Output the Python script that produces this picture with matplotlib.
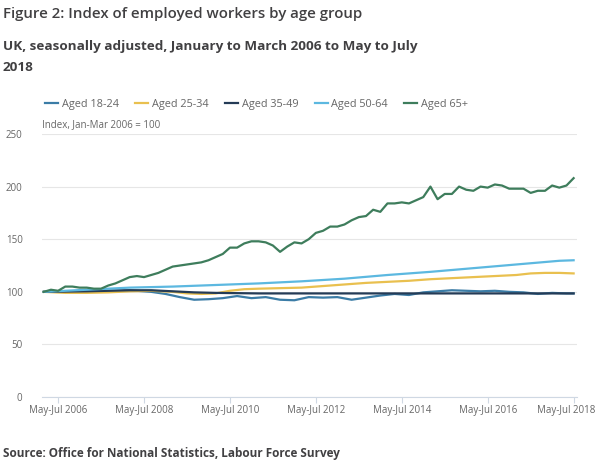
import numpy as np
import matplotlib
matplotlib.use('Agg')
from matplotlib import pyplot as plt
from matplotlib.transforms import ScaledTranslation

plt.rcParams['font.family'] = ['Open Sans', 'DejaVu Sans']

# months since Jan-Mar 2006 (rolling quarters), and index values
m_1824 = [0, 6, 12, 18, 24, 30, 34, 38, 42, 46, 50, 54, 58, 62, 66, 70, 74, 78, 82, 86,
          90, 94, 98, 102, 106, 110, 114, 118, 122, 126, 130, 134, 138, 142, 146, 148]
v_1824 = [100, 100.5, 101, 101, 101.5, 100, 98, 95, 92.5, 93, 94, 96, 94, 95, 92.5, 92, 95, 94.5, 95, 92.5,
          94.5, 96.5, 98, 97, 99.5, 100.5, 101.5, 101, 100.5, 101, 100, 99.5, 98, 99, 98.5, 98.5]

m_2534 = [0, 6, 12, 18, 24, 30, 36, 40, 44, 48, 52, 56, 60, 66, 72, 78, 84, 90, 96, 102,
          108, 114, 120, 126, 132, 136, 140, 144, 148]
v_2534 = [100, 99, 99, 99.5, 100.5, 101, 100, 98.5, 98, 98.5, 101, 102.5, 103, 103.5, 104, 105.5, 107, 108.5, 109.5, 110.5,
          112, 113, 114, 115, 116, 117.5, 118, 118, 117.5]

m_3549 = [0, 12, 24, 30, 36, 42, 48, 60, 72, 84, 96, 108, 120, 132, 148]
v_3549 = [100, 100.5, 101.5, 101.5, 100.5, 99.5, 99, 98.5, 98.5, 98.5, 98.5, 98.5, 98.5, 98.5, 98.5]

m_5064 = [0, 12, 24, 36, 48, 60, 72, 84, 96, 108, 120, 132, 144, 148]
v_5064 = [100, 102, 104, 105, 106.5, 108, 110, 112.5, 116, 119, 122.5, 126, 129.5, 130]

m_65 = list(range(0, 149, 2))
v_65 = [100, 102, 101, 105, 105, 104, 104, 103, 103, 106, 108, 111, 114, 115, 114, 116, 118, 121, 124, 125,
        126, 127, 128, 130, 133, 136, 142, 142, 146, 148, 148, 147, 144, 138, 143, 147, 146, 150, 156, 158,
        162, 162, 164, 168, 171, 172, 178, 176, 184, 184, 185, 184, 187, 190, 200, 188, 193, 193, 200, 197,
        196, 200, 199, 202, 201, 198, 198, 198, 194, 196, 196, 201, 199, 201, 208]

labels = ['Aged 18-24', 'Aged 25-34', 'Aged 35-49', 'Aged 50-64', 'Aged 65+']
colors = ['#3b7ca6', '#e9c04f', '#243b56', '#5cb8e0', '#3e7d5c']
tick_m = [4, 28, 52, 76, 100, 124, 148]
tick_label = ['May-Jul 2006', 'May-Jul 2008', 'May-Jul 2010', 'May-Jul 2012',
              'May-Jul 2014', 'May-Jul 2016', 'May-Jul 2018']

fig = plt.figure(figsize=(6, 4.75), dpi=100)
ax = fig.add_axes([0.07, 0.164, 0.892, 0.554])

series = [(m_1824, v_1824), (m_2534, v_2534), (m_3549, v_3549), (m_5064, v_5064), (m_65, v_65)]
for (mm, vv), lab, col in zip(series, labels, colors):
    ax.plot(mm, vv, color=col, lw=1.6, label=lab)

ax.set_xlim(-0.5, 149)
ax.set_ylim(0, 250)
ax.set_yticks([0, 50, 100, 150, 200, 250])
ax.set_xticks(tick_m)
ax.set_xticklabels(tick_label)
ax.grid(axis='y', color='#e6e6e6', lw=0.8)
ax.set_axisbelow(True)
for s in ['top', 'right', 'left']:
    ax.spines[s].set_visible(False)
ax.spines['bottom'].set_color('#cfd8e3')
ax.tick_params(axis='y', length=0, labelsize=7, labelcolor='#666666', pad=14)
ax.tick_params(axis='x', length=4, color='#cfd8e3', labelsize=7, labelcolor='#666666', pad=2)
# last label sits a little left so it stays inside the picture
last = ax.get_xticklabels()[-1]
last.set_transform(last.get_transform() + ScaledTranslation(-5 / 72, 0, fig.dpi_scale_trans))

ax.text(0, 1.015, 'Index, Jan-Mar 2006 = 100', transform=ax.transAxes, fontsize=7,
        color='#666666', ha='left', va='bottom')

ax.legend(loc='lower left', bbox_to_anchor=(-0.002, 1.075), ncol=5, frameon=False,
          fontsize=7.8, labelcolor='#666666', handlelength=1.2, handletextpad=0.35,
          columnspacing=1.5, borderaxespad=0)

fig.text(0.005, 0.985, 'Figure 2: Index of employed workers by age group', fontsize=10.85,
         fontweight='semibold', color='#414042', ha='left', va='top')
fig.text(0.005, 0.915, 'UK, seasonally adjusted, January to March 2006 to May to July\n2018',
         fontsize=9.7, fontweight='bold', color='#414042', ha='left', va='top', linespacing=1.75)
fig.text(0.005, 0.032, 'Source: Office for National Statistics, Labour Force Survey', fontsize=8.5,
         fontweight='bold', color='#414042', ha='left', va='bottom')

fig.savefig('out.png', dpi=100)
